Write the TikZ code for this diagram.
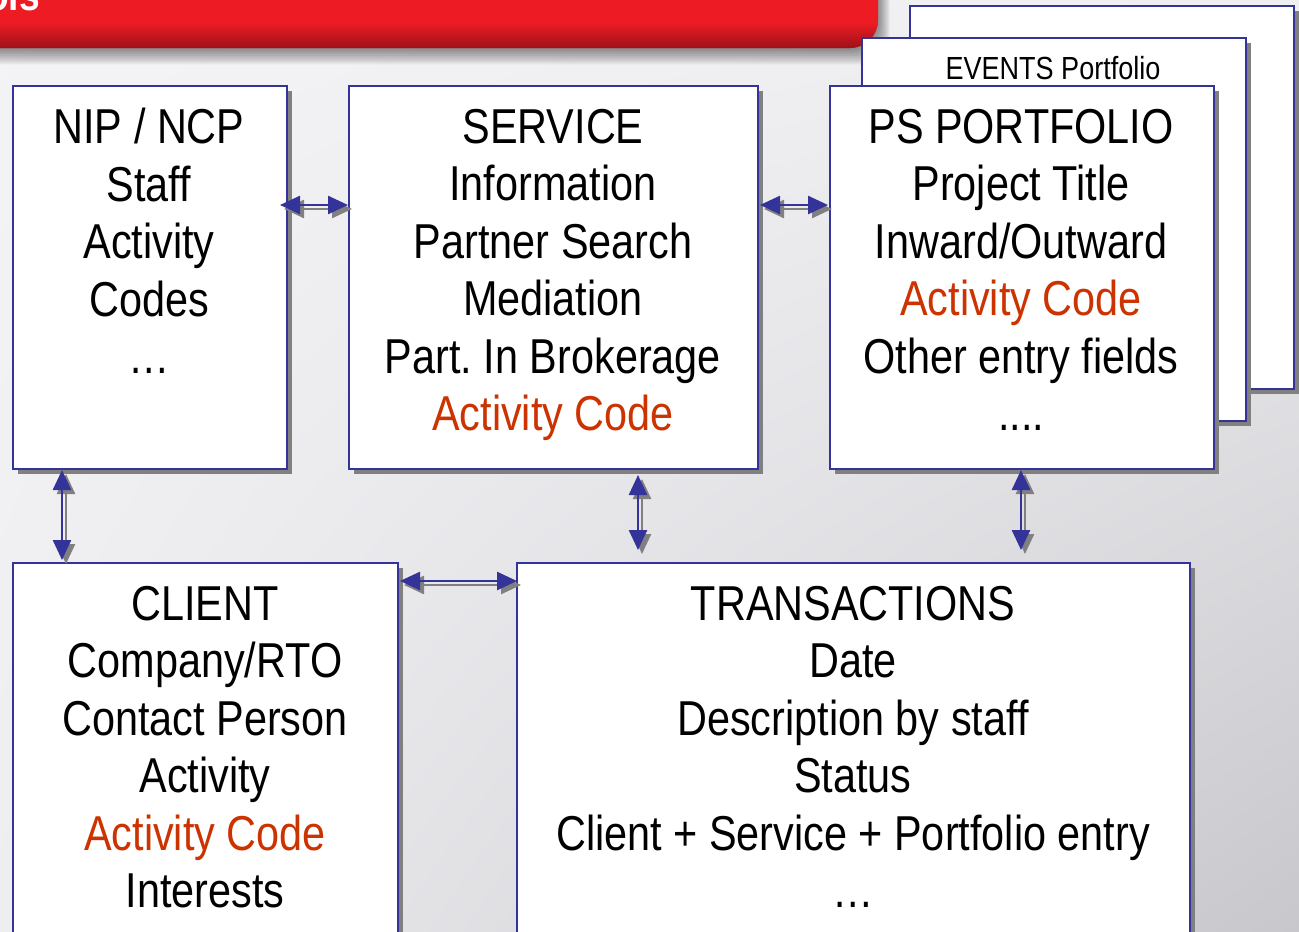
\documentclass[tikz,border=0pt]{standalone}
\usepackage{fontspec}
\setmainfont{Liberation Sans}[FakeStretch=0.845]
\usetikzlibrary{arrows.meta,calc,shadows,shadings}
\definecolor{navy}{HTML}{333399}
\definecolor{acode}{HTML}{CC3300}
\definecolor{shad}{HTML}{808080}
\definecolor{bgul}{HTML}{F4F4F7}
\definecolor{bgur}{HTML}{EFEFF2}
\definecolor{bgll}{HTML}{EEEEF1}
\definecolor{bglr}{HTML}{C8C8CC}
\definecolor{bannerred}{HTML}{ED1C24}
\definecolor{bannerdark}{HTML}{9C1018}
\frenchspacing
\begin{document}
\begin{tikzpicture}[x=1pt,y=-1pt,
  box/.style={draw=navy, line width=2pt, fill=white, inner sep=0pt, anchor=north west,
    drop shadow={shadow xshift=5pt, shadow yshift=-5pt, opacity=1, fill=shad}},
  txt/.style={align=center, inner sep=0pt, font=\fontsize{49}{57.5}\selectfont},
  dbl/.style={{Triangle[length=20pt,width=18pt]}-{Triangle[length=20pt,width=18pt]}, line width=2.5pt, draw=navy, fill=navy},
  dblshadow/.style={dbl, draw=shad, fill=shad}
]
\useasboundingbox (0,0) rectangle (1299,932);
% background
\shade[upper left=bgul, upper right=bgur, lower left=bgll, lower right=bglr] (0,0) rectangle (1299,932);
% banner shadow
\foreach \i in {1,...,12}{
  \fill[black, opacity=0.05, rounded corners=28pt] (-40,-60) rectangle (874+\i*1.3,44+\i*1.7);
}
\fill[bannerred, rounded corners=28pt] (-40,-60) rectangle (878,48);
\begin{scope}
  \clip[rounded corners=28pt] (-40,-60) rectangle (878,48);
  \shade[top color=bannerred, bottom color=bannerdark] (-40,22) rectangle (900,49);
\end{scope}
\node[anchor=base west, inner sep=0pt, text=white, font=\fontsize{44}{44}\bfseries\selectfont] (title) at (-14,10) {ols};

% stacked portfolio pages
\node[box, minimum width=384pt, minimum height=383pt] (back) at (909,5) {};
\node[box, minimum width=384pt, minimum height=383pt] (events) at (861,37) {};
\node[anchor=center, inner sep=0pt, font=\fontsize{32}{32}\selectfont] (eventstxt) at (1053,68) {EVENTS Portfolio};

% main boxes
\node[box, minimum width=274pt, minimum height=383pt] (nip) at (12,85) {};
\node[box, minimum width=409pt, minimum height=383pt] (svc) at (348,85) {};
\node[box, minimum width=384pt, minimum height=383pt] (ps) at (829,85) {};
\node[box, minimum width=385pt, minimum height=400pt] (client) at (12,562) {};
\node[box, minimum width=673pt, minimum height=400pt] (trans) at (516,562) {};

\node[txt] (niptxt) at (149,241) {NIP / NCP\\Staff\\Activity\\Codes\\\dots};
\node[txt] (svctxt) at (553,275) {SERVICE\\Information\\Partner Search\\Mediation\\Part. In Brokerage\\{\color{acode}Activity Code}};
\node[txt] (pstxt) at (1021,270) {PS PORTFOLIO\\Project Title\\Inward/Outward\\{\color{acode}Activity Code}\\Other entry fields\\....};
\node[txt] (clienttxt) at (205,747) {CLIENT\\Company/RTO\\Contact Person\\Activity\\{\color{acode}Activity Code}\\Interests};
\node[txt] (transtxt) at (853,747) {TRANSACTIONS\\Date\\Description by staff\\Status\\Client + Service + Portfolio entry\\\dots};

% connectors
\coordinate (a1s) at ($(nip.north east)+(-8,120)$);
\coordinate (a1e) at ($(svc.north west)+(0,120)$);
\coordinate (a2s) at ($(svc.north east)+(1,120)$);
\coordinate (a2e) at ($(ps.north west)+(-1,120)$);
\coordinate (v1s) at ($(nip.south west)+(50,0)$);
\coordinate (v1e) at ($(client.north west)+(50,-2)$);
\coordinate (v2s) at ($(svc.south west)+(290,5)$);
\coordinate (v2e) at ($(trans.north west)+(122,-12)$);
\coordinate (v3s) at ($(ps.south west)+(192,0)$);
\coordinate (v3e) at ($(trans.north west)+(505,-12)$);
\coordinate (h3s) at ($(client.north east)+(1,19)$);
\coordinate (h3e) at ($(trans.north west)+(1,19)$);

\foreach \s/\e in {a1s/a1e, a2s/a2e, v1s/v1e, v2s/v2e, v3s/v3e, h3s/h3e}{
  \draw[dblshadow] ($(\s)+(4,4)$) -- ($(\e)+(4,4)$);
  \draw[dbl] (\s) -- (\e);
}
\end{tikzpicture}
\end{document}
